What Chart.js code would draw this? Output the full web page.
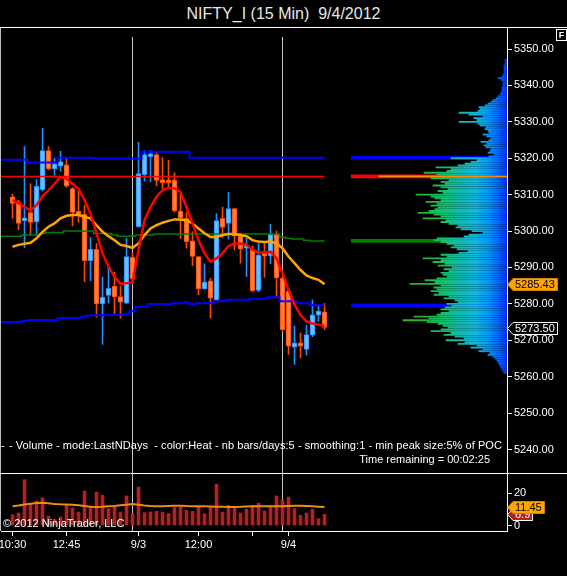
<!DOCTYPE html>
<html>
<head>
<meta charset="utf-8">
<script src="https://cdn.jsdelivr.net/npm/chart.js@4.4.0/dist/chart.umd.min.js"></script>
<style>
  html, body { margin: 0; padding: 0; background: #000; }
  #wrap { position: relative; width: 567px; height: 576px; overflow: hidden; background: #000;
          font-family: "Liberation Sans", Arial, sans-serif; color: #fff; }
  canvas { position: absolute; }
  .txt { position: absolute; white-space: pre; font-size: 11px; line-height: 13px; color: #fff; }
  .hl { position: absolute; background: #fff; }
</style>
</head>
<body>
<div id="wrap">
  <div class="txt" style="left:0;top:4px;width:567px;font-size:16px;line-height:20px;text-align:center;color:#e8e8e8">NIFTY_I (15 Min)  9/4/2012</div>
  <div class="hl" style="left:0;top:27px;width:567px;height:1px"></div>
  <div class="hl" style="left:0;top:28px;width:1px;height:503px;background:#bdbdbd"></div>
  <div class="hl" style="left:0;top:473px;width:567px;height:1px"></div>

  <canvas id="price" width="567" height="469" style="left:0;top:16px"></canvas>
  <canvas id="profile" width="156" height="469" style="left:351px;top:16px"></canvas>
  <canvas id="vol" width="567" height="115" style="left:0;top:461px"></canvas>

  <div style="position:absolute;left:556px;top:29px;width:11px;height:12px;box-sizing:border-box;border:1px solid #fff;font:bold 9px 'Liberation Sans',Arial,sans-serif;line-height:10px;text-align:center;color:#fff">F</div>
  <div class="txt" style="left:1px;top:439px">-</div>
  <div class="txt" style="right:65px;top:439px;letter-spacing:0.06px"> - Volume - mode:LastNDays  - color:Heat - nb bars/days:5 - smoothing:1 - min peak size:5% of POC</div>
  <div class="txt" style="right:77px;top:453px">Time remaining = 00:02:25</div>
  <div class="txt" style="left:3px;top:517px">© 2012 NinjaTrader, LLC</div>
</div>

<script>
Chart.defaults.font.family = '"Liberation Sans", Arial, sans-serif';
Chart.defaults.font.size = 11;
Chart.defaults.color = '#fff';

// time axis (bar index), 15 min bars
const TIME_TICKS  = [0, 9, 21, 31, 40, 46];
const TIME_LABELS = ['10:30', '12:45', '9/3', '12:00', '', '9/4'];
const SESSION_BREAKS = [20, 45];
const PRICE_TICKS = [5240, 5250, 5260, 5270, 5280, 5290, 5300, 5310, 5320, 5330, 5340, 5350];
const VOL_TICKS = [0, 20];

// candles
const OPEN  = [5309.4,5308.0,5302.8,5305.1,5302.5,5311.4,5322.1,5317.1,5317.8,5318.2,5311.7,5305.1,5304.6,5291.9,5295.0,5280.0,5282.3,5284.8,5282.0,5280.2,
               5292.8,5301.2,5315.5,5320.4,5321.0,5313.9,5314.1,5314.1,5305.5,5303.5,5297.3,5293.0,5284.1,5286.3,5281.1,5303.5,5302.1,5306.2,5298.6,5295.3,
               5295.0,5283.7,5293.4,5293.2,5299.2,5287.1,5283.6,5268.1,5269.3,5267.5,5271.4,5276.9,5277.8];
const HIGH  = [5310.1,5308.5,5323.2,5313.0,5314.1,5328.2,5323.2,5320.0,5321.9,5320.1,5312.0,5311.0,5307.1,5298.2,5296.6,5287.4,5290.2,5288.7,5284.8,5298.0,
               5294.1,5324.4,5322.1,5322.1,5321.7,5320.2,5319.4,5316.0,5310.1,5305.1,5299.8,5293.0,5291.0,5287.1,5304.8,5306.6,5310.6,5306.3,5299.4,5298.0,
               5295.9,5296.6,5296.6,5301.9,5300.0,5287.3,5284.3,5273.9,5272.0,5274.1,5281.1,5279.6,5280.1];
const LOW   = [5303.5,5300.3,5295.4,5298.9,5298.9,5311.0,5316.8,5315.3,5316.4,5312.0,5301.4,5302.4,5286.1,5286.4,5276.3,5268.9,5280.2,5277.0,5276.1,5280.0,
               5285.7,5301.0,5313.7,5313.5,5312.4,5311.7,5312.1,5305.2,5298.0,5295.3,5290.5,5282.5,5284.0,5276.1,5281.0,5298.2,5297.8,5294.8,5291.2,5287.5,
               5283.3,5283.3,5287.3,5291.0,5282.1,5272.3,5266.1,5263.4,5265.2,5265.9,5271.0,5275.2,5272.9];
const CLOSE = [5307.6,5302.1,5303.2,5302.4,5312.3,5322.1,5317.1,5318.5,5319.1,5312.3,5305.1,5304.6,5291.9,5295.0,5280.0,5281.8,5284.3,5281.9,5280.5,5293.0,
               5286.8,5315.8,5321.0,5320.7,5313.9,5313.3,5313.2,5305.5,5303.7,5297.1,5293.0,5284.1,5286.0,5281.6,5302.9,5301.0,5306.2,5298.6,5295.0,5295.6,
               5283.6,5293.4,5293.1,5299.2,5287.1,5272.9,5268.4,5269.3,5268.4,5271.6,5277.0,5278.0,5273.5];

// indicators on price
const SMA_FAST = [5308.5,5307.7,5306.6,5305.7,5307.1,5309.6,5311.2,5313.0,5314.8,5314.4,5313.0,5311.7,5308.5,5304.8,5299.4,5293.9,5290.2,5287.5,5285.5,5285.7,
                  5285.9,5294.8,5303.0,5306.6,5309.4,5311.2,5311.9,5311.7,5310.7,5306.6,5302.1,5297.5,5293.9,5291.6,5292.5,5293.9,5295.9,5296.6,5296.6,5296.2,
                  5294.8,5294.1,5294.1,5294.3,5292.5,5288.4,5283.9,5279.8,5277.0,5275.2,5274.6,5274.3,5273.9];
const SMA_SLOW = [5295.7,5296.2,5296.5,5296.8,5298.0,5299.8,5301.2,5302.1,5303.5,5304.2,5304.4,5304.4,5303.9,5303.5,5301.6,5299.8,5298.6,5297.5,5296.2,5295.9,
                  5295.4,5296.6,5298.9,5300.7,5301.6,5302.3,5302.8,5303.2,5303.2,5303.0,5302.1,5300.7,5299.4,5298.4,5298.4,5298.9,5299.2,5299.2,5298.9,5298.6,
                  5297.5,5297.1,5297.0,5297.1,5296.6,5295.3,5293.0,5291.2,5289.3,5287.8,5287.1,5286.6,5285.43];
const VAH_DEV = [5319.6,5319.6,5319.6,5318.8,5318.8,5318.8,5318.8,5318.8,5320.1,5320.1,5320.1,5320.1,5320.1,5320.1,5319.9,5319.9,5319.9,5319.9,5319.9,5319.9,
                 5319.9,5319.9,5321.8,5321.8,5321.8,5321.8,5321.8,5321.8,5321.8,5321.8,5320.1,5320.1,5320.1,5320.1,5320.1,5320.1,5320.1,5320.1,5320.1,5320.1,
                 5320.1,5320.1,5320.1,5320.1,5320.1,5320.1,5320.1,5320.1,5320.1,5320.1,5320.1,5320.1,5320.1];
const VAL_DEV = [5275.0,5275.0,5275.3,5275.6,5275.6,5275.6,5275.6,5275.6,5276.1,5276.1,5276.1,5276.1,5276.6,5276.9,5276.9,5276.9,5277.0,5277.0,5277.0,5277.3,
                 5278.0,5279.2,5279.2,5280.0,5280.0,5280.0,5280.0,5280.2,5280.2,5280.4,5280.0,5280.2,5280.2,5280.2,5280.7,5280.7,5281.1,5281.1,5281.1,5281.1,
                 5281.4,5281.4,5281.4,5281.8,5281.8,5280.7,5280.7,5280.7,5280.2,5280.2,5279.6,5279.6,5279.6];
const MID_DEV = [5298.6,5298.6,5298.9,5298.9,5298.9,5299.3,5299.6,5299.6,5299.6,5300.0,5300.0,5300.0,5300.0,5300.0,5299.3,5299.3,5299.3,5298.9,5298.6,5298.6,
                 5298.6,5298.9,5298.9,5298.9,5299.2,5299.2,5299.2,5299.2,5299.2,5299.2,5299.2,5299.2,5299.2,5299.2,5299.2,5299.2,5299.2,5299.2,5299.2,5299.2,
                 5299.2,5299.2,5299.2,5299.2,5299.2,5298.3,5298.0,5297.8,5297.8,5297.5,5297.3,5297.3,5297.3];
const POC_PRICE = 5315.0;

// volume panel
const VOLUME  = [6.6,7.7,28.2,13.0,15.1,17.1,5.8,3.8,5.2,12.4,10.8,8.3,21.2,11.4,20.6,18.6,10.4,11.4,8.3,18.2,
                 7.3,23.7,7.9,8.3,8.7,8.3,7.3,11.0,11.4,9.3,8.7,11.4,7.3,11.4,25.5,8.3,12.4,10.8,7.7,10.0,
                 12.4,13.8,8.9,11.4,18.2,15.7,17.5,10.4,6.3,7.7,10.0,4.2,6.9];
const VOL_SMA = [11.8,12.3,12.9,13.4,13.8,14.0,13.7,13.3,13.1,13.0,12.8,12.4,12.0,11.6,11.4,11.5,11.8,12.0,12.4,12.8,
                 13.2,12.8,12.3,12.0,11.9,11.9,12.0,12.1,12.2,12.0,11.9,11.8,11.8,11.7,11.6,11.5,11.4,11.4,11.5,11.7,
                 11.8,11.8,11.8,11.8,11.8,11.9,12.0,12.1,12.2,12.0,11.8,11.6,11.45];

// volume profile, one value per half point from PROFILE_LOW upward
const PROFILE_LOW = 5261.0;
const PROFILE_STEP = 0.5;
const PROFILE = [
  3,4,5,6,7,8,9,10,12,14,19,17,28,24,36,30,49,42,61,43,
  52,63,56,76,66,59,64,69,80,104,78,93,70,66,58,66,62,55,60,49,
  52,63,58,73,68,76,70,73,66,97,72,82,70,60,64,66,58,63,55,69,
  62,74,66,84,60,66,48,39,50,56,53,60,66,73,70,43,38,24,35,46,
  51,49,58,66,61,84,66,73,89,78,72,69,76,70,81,66,72,76,91,64,
  69,59,66,74,62,66,58,76,128,70,83,60,56,71,49,42,36,30,56,18,
  13,19,17,16,21,23,20,26,18,16,20,24,18,19,22,21,27,29,48,30,
  33,24,38,48,29,27,28,22,19,16,14,11,9,7,6,5,5,5,4,4,
  4,6,9,5,4,3,3,3,3,3,2,2,2
];
const PROFILE_MAX = 156;

// axis ranges
const X_MIN = -1.92, X_MAX = 82.42;
const Y_MIN = 5233.55, Y_MAX = 5355.77;
const V_MIN = -3.38, V_MAX = 32.31;

const LAST = CLOSE.length - 1;
const isUp = i => CLOSE[i] >= OPEN[i];
const pts = arr => arr.map((v, i) => ({ x: i, y: v }));
const stepPts = arr => [{ x: X_MIN, y: arr[0] }].concat(pts(arr));

function drawBreaks(chart, gap) {
  const ctx = chart.ctx, a = chart.chartArea, xs = chart.scales.x;
  ctx.save();
  ctx.strokeStyle = '#c8c8c8';
  ctx.lineWidth = 1;
  SESSION_BREAKS.forEach(i => {
    const x = Math.floor(xs.getPixelForValue(i)) + 0.5;
    ctx.beginPath();
    ctx.moveTo(x, a.top + gap);
    ctx.lineTo(x, a.bottom);
    ctx.stroke();
  });
  ctx.restore();
}

function drawTag(chart, value, text, fill, stroke, color) {
  const ctx = chart.ctx, a = chart.chartArea;
  const y = Math.round(chart.scales.y.getPixelForValue(value)) + 0.5;
  ctx.save();
  ctx.font = '11px "Liberation Sans", Arial, sans-serif';
  const w = ctx.measureText(text).width;
  const tip = a.right + 0.5, left = tip + 5.5, right = Math.round(left + w + 4) + 0.5, h = 6;
  ctx.beginPath();
  ctx.moveTo(tip, y);
  ctx.lineTo(left, y - h);
  ctx.lineTo(right, y - h);
  ctx.lineTo(right, y + h);
  ctx.lineTo(left, y + h);
  ctx.closePath();
  ctx.fillStyle = fill;
  ctx.fill();
  if (stroke) { ctx.strokeStyle = stroke; ctx.lineWidth = 1; ctx.stroke(); }
  ctx.fillStyle = color;
  ctx.textBaseline = 'middle';
  ctx.fillText(text, left + 2, y + 0.5);
  ctx.restore();
}

const baseOpts = {
  responsive: false,
  animation: false,
  devicePixelRatio: 1,
  events: [],
  plugins: { legend: { display: false }, tooltip: { enabled: false } }
};

// ---- price panel
new Chart(document.getElementById('price'), {
  type: 'bar',
  data: {
    datasets: [
      { type: 'line', data: pts(SMA_FAST), borderColor: '#ff0000', borderWidth: 2.5, pointRadius: 0, order: 1 },
      { type: 'line', data: pts(SMA_SLOW), borderColor: '#ffa500', borderWidth: 2.5, pointRadius: 0, order: 2 },
      { type: 'line', data: stepPts(VAH_DEV), stepped: 'middle', borderColor: '#0000ff', borderWidth: 2, pointRadius: 0, order: 3 },
      { type: 'line', data: stepPts(VAL_DEV), stepped: 'middle', borderColor: '#0000ff', borderWidth: 2, pointRadius: 0, order: 3 },
      { type: 'line', data: stepPts(MID_DEV), stepped: 'middle', borderColor: '#008000', borderWidth: 1.5, pointRadius: 0, order: 3 },
      { type: 'line', data: [{ x: X_MIN, y: POC_PRICE }, { x: LAST, y: POC_PRICE }], borderColor: '#ff0000', borderWidth: 1.5, pointRadius: 0, order: 3 },
      { data: LOW.map((l, i) => ({ x: i, y: [l, HIGH[i]] })),
        backgroundColor: OPEN.map((o, i) => isUp(i) ? '#1e90ff' : '#ff4500'),
        barThickness: 1, grouped: false, order: 6 },
      { data: OPEN.map((o, i) => ({ x: i, y: [o, CLOSE[i]] })),
        backgroundColor: OPEN.map((o, i) => isUp(i) ? '#6cbcff' : '#ff8040'),
        borderColor: OPEN.map((o, i) => isUp(i) ? '#1e90ff' : '#ff4500'),
        borderWidth: 1, borderSkipped: false, barThickness: 5, minBarLength: 3, grouped: false, order: 5 }
    ]
  },
  options: Object.assign({}, baseOpts, {
    layout: { padding: { left: 1, top: 12, right: 0, bottom: 12 } },
    scales: {
      x: { type: 'linear', min: X_MIN, max: X_MAX, bounds: 'data', offset: false, display: false },
      y: {
        type: 'linear', position: 'right', min: Y_MIN, max: Y_MAX, bounds: 'data',
        afterBuildTicks: s => { s.ticks = PRICE_TICKS.map(v => ({ value: v })); },
        afterFit: s => { s.width = 60; },
        ticks: { color: '#fff', padding: 2, callback: v => v.toFixed(2) },
        grid: { drawOnChartArea: false, color: '#fff', tickLength: 5 },
        border: { color: '#fff' }
      }
    }
  }),
  plugins: [{
    id: 'priceDecor',
    beforeDatasetsDraw: c => drawBreaks(c, 9),
    afterDraw: c => {
      const slow = SMA_SLOW[LAST];
      drawTag(c, slow, slow.toFixed(2), '#ffa500', '#d08000', '#000');
      drawTag(c, CLOSE[LAST], CLOSE[LAST].toFixed(2), '#000', '#fff', '#fff');
    }
  }]
});

// ---- volume profile (right side of price panel)
let profGrad = null;
const profMaxVal = Math.max.apply(null, PROFILE);
const profColor = ctx => {
  const chart = ctx.chart, a = chart.chartArea;
  if (!a) return '#0050ff';
  if (ctx.raw && ctx.raw.x === profMaxVal) return '#ff8c00';
  if (!profGrad) {
    const g = chart.ctx.createLinearGradient(a.right, 0, a.left, 0);
    g.addColorStop(0.00, '#0030ff');
    g.addColorStop(0.05, '#0060ff');
    g.addColorStop(0.12, '#0098f8');
    g.addColorStop(0.20, '#10b8e0');
    g.addColorStop(0.30, '#10b8b0');
    g.addColorStop(0.40, '#14c070');
    g.addColorStop(0.52, '#18b838');
    g.addColorStop(0.64, '#40b010');
    g.addColorStop(0.76, '#90a800');
    g.addColorStop(0.87, '#ff6000');
    g.addColorStop(1.00, '#ff0000');
    profGrad = g;
  }
  return profGrad;
};
const markers = [
  { p: VAH_DEV[LAST], c: '#0000ff' },
  { p: POC_PRICE, c: '#ff0000' },
  { p: MID_DEV[LAST], c: '#008000' },
  { p: VAL_DEV[LAST], c: '#0000ff' }
];

new Chart(document.getElementById('profile'), {
  type: 'bar',
  data: {
    datasets: [
      { data: PROFILE.map((v, k) => ({ x: v, y: PROFILE_LOW + k * PROFILE_STEP })),
        backgroundColor: profColor, barThickness: 1.2, grouped: false, order: 1 },
      { data: markers.map(m => ({ x: PROFILE_MAX, y: m.p })),
        backgroundColor: markers.map(m => m.c), barThickness: 3, grouped: false, order: 2 }
    ]
  },
  options: Object.assign({}, baseOpts, {
    indexAxis: 'y',
    layout: { padding: { left: 0, top: 12, right: 0, bottom: 12 } },
    scales: {
      x: { type: 'linear', reverse: true, min: 0, max: PROFILE_MAX, bounds: 'data', display: false },
      y: { type: 'linear', min: Y_MIN, max: Y_MAX, bounds: 'data', offset: false, display: false }
    }
  })
});

// ---- volume panel
new Chart(document.getElementById('vol'), {
  type: 'bar',
  data: {
    datasets: [
      { type: 'line', data: pts(VOL_SMA), borderColor: '#f08a18', borderWidth: 2, pointRadius: 0, order: 1 },
      { data: pts(VOLUME), backgroundColor: '#b22222', barThickness: 3, grouped: false, order: 2 }
    ]
  },
  options: Object.assign({}, baseOpts, {
    layout: { padding: { left: 1, top: 12, right: 0, bottom: 0 } },
    scales: {
      x: {
        type: 'linear', min: X_MIN, max: X_MAX, bounds: 'data', offset: false,
        afterBuildTicks: s => { s.ticks = TIME_TICKS.map(v => ({ value: v })); },
        afterFit: s => { s.height = 45; s.paddingLeft = 0; s.paddingRight = 0; },
        ticks: { color: '#fff', padding: 2, maxRotation: 0, autoSkip: false,
                 callback: (v, idx) => TIME_LABELS[idx] },
        grid: { drawOnChartArea: false, color: '#fff', tickLength: 5, offset: false },
        border: { color: '#fff' }
      },
      y: {
        type: 'linear', position: 'right', min: V_MIN, max: V_MAX, bounds: 'data',
        afterBuildTicks: s => { s.ticks = VOL_TICKS.map(v => ({ value: v })); },
        afterFit: s => { s.width = 60; },
        ticks: { color: '#fff', padding: 2, callback: v => String(v) },
        grid: { drawOnChartArea: false, color: '#fff', tickLength: 5 },
        border: { color: '#fff' }
      }
    }
  }),
  plugins: [{
    id: 'volDecor',
    beforeDatasetsDraw: c => drawBreaks(c, 0),
    afterDraw: c => {
      drawTag(c, VOLUME[LAST], String(VOLUME[LAST]), '#b22222', '#fff', '#fff');
      drawTag(c, VOL_SMA[LAST], String(VOL_SMA[LAST]), '#ffa500', '#d08000', '#000');
    }
  }]
});
</script>
</body>
</html>
